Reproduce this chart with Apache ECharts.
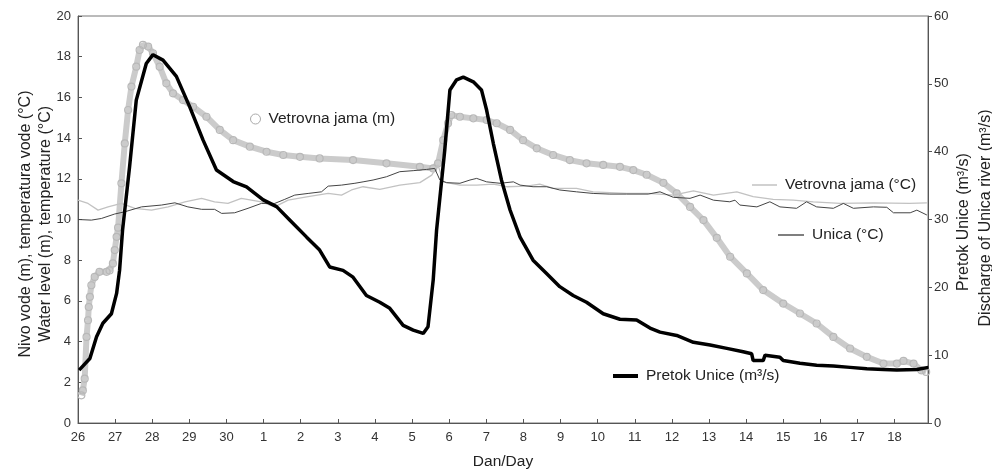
<!DOCTYPE html>
<html>
<head>
<meta charset="utf-8">
<script src="https://cdn.jsdelivr.net/npm/echarts@6/dist/echarts.min.js"></script>
<style>
html,body{margin:0;padding:0;background:#fff;}
#chart{width:992px;height:470px;}
</style>
</head>
<body>
<div id="chart"></div>
<script>
// x = days since "26" (0 = 26th)
var dayLabels = ['26','27','28','29','30','1','2','3','4','5','6','7','8','9','10','11','12','13','14','15','16','17','18'];

// Vetrovna jama water level (m), left axis
var levelVJ = [
[0.09,1.36],[0.13,1.6],[0.18,2.18],[0.23,4.23],[0.27,5.05],[0.29,5.7],[0.32,6.2],[0.36,6.77],[0.45,7.18],[0.58,7.43],
[0.77,7.43],[0.85,7.5],[0.94,7.84],[0.99,8.5],[1.04,9.15],[1.08,9.6],[1.17,11.78],[1.26,13.74],[1.35,15.38],[1.44,16.53],
[1.57,17.51],[1.66,18.33],[1.75,18.58],[1.89,18.5],[2.02,18.17],[2.20,17.51],[2.38,16.69],[2.56,16.2],[2.83,15.87],[3.10,15.54],
[3.46,15.05],[3.82,14.4],[4.18,13.9],[4.63,13.58],[5.08,13.33],[5.53,13.17],[5.98,13.08],[6.51,13.0],[7.41,12.92],[8.31,12.76],
[9.21,12.59],[9.57,12.51],[9.70,12.76],[9.84,13.9],[9.97,14.73],[10.06,15.13],[10.29,15.05],[10.65,14.97],[11.01,14.89],[11.28,14.73],
[11.64,14.4],[11.99,13.9],[12.36,13.5],[12.80,13.17],[13.25,12.92],[13.70,12.76],[14.15,12.68],[14.60,12.59],[14.96,12.43],[15.32,12.2],
[15.77,11.8],[16.13,11.28],[16.49,10.62],[16.85,9.97],[17.21,9.1],[17.57,8.17],[18.02,7.35],[18.46,6.53],[19.00,5.87],[19.45,5.38],
[19.90,4.89],[20.35,4.23],[20.80,3.66],[21.25,3.25],[21.70,2.92],[22.06,2.92],[22.24,3.05],[22.51,2.92],[22.72,2.59],[22.85,2.51]
];

// Vetrovna jama water temperature (°C), left axis
var tempVJ = [
[0.00,10.95],[0.27,10.79],[0.54,10.46],[0.81,10.62],[1.17,10.79],[1.53,10.55],[1.98,10.46],[2.43,10.62],[2.88,10.87],[3.33,11.04],
[3.68,10.87],[4.04,10.79],[4.40,11.04],[4.94,10.87],[5.30,10.62],[5.66,10.95],[6.20,11.12],[6.74,11.28],[7.10,11.2],[7.37,11.45],
[7.68,11.61],[8.13,11.48],[8.67,11.69],[9.21,11.81],[9.53,12.18],[9.70,12.68],[9.84,11.85],[10.29,11.69],[10.74,11.69],[11.19,11.74],
[11.55,11.61],[12.09,11.64],[12.44,11.74],[12.80,11.53],[13.43,11.53],[13.88,11.36],[14.78,11.28],[15.36,11.28],[16.04,11.2],[16.58,11.41],
[17.12,11.2],[17.75,11.36],[18.19,11.12],[18.73,10.99],[19.27,10.95],[19.81,10.87],[20.53,10.79],[21.43,10.82],[22.40,10.79],[22.87,10.82]
];

// Unica river temperature (°C), left axis
var tempUnica = [
[0.00,10.0],[0.36,9.97],[0.63,10.05],[0.99,10.27],[1.26,10.38],[1.71,10.62],[2.25,10.71],[2.61,10.82],[2.96,10.62],[3.33,10.5],
[3.68,10.5],[3.87,10.3],[4.22,10.33],[4.58,10.55],[4.94,10.79],[5.30,10.79],[5.57,10.99],[5.84,11.2],[6.20,11.28],[6.56,11.36],
[6.74,11.64],[7.10,11.69],[7.46,11.78],[7.68,11.85],[7.95,11.94],[8.31,12.1],[8.67,12.35],[9.03,12.4],[9.39,12.46],[9.61,12.51],
[9.75,11.94],[9.93,11.81],[10.29,11.78],[10.56,11.94],[10.74,12.02],[11.01,11.85],[11.37,11.78],[11.73,11.85],[11.91,11.69],[12.26,11.61],
[12.63,11.61],[12.98,11.45],[13.43,11.36],[13.88,11.28],[14.33,11.25],[14.78,11.25],[15.36,11.25],[15.68,11.36],[16.04,11.09],[16.49,11.04],
[16.76,11.2],[17.12,10.95],[17.56,10.87],[17.70,10.95],[17.83,10.71],[18.29,10.62],[18.64,10.87],[18.91,10.62],[19.36,10.55],[19.63,10.87],
[19.90,10.62],[20.35,10.55],[20.62,10.79],[20.89,10.55],[21.43,10.62],[21.79,10.6],[21.97,10.33],[22.42,10.33],[22.60,10.46],[22.87,10.22]
];

// Discharge of Unica (m3/s), right axis
var discharge = [
[0.03,7.8],[0.32,9.5],[0.50,12.7],[0.67,14.7],[0.90,16.1],[1.04,19.1],[1.12,22.5],[1.20,28.4],[1.39,37.8],[1.57,47.6],
[1.84,53.0],[2.02,54.3],[2.29,53.5],[2.65,51.1],[3.01,46.6],[3.37,41.7],[3.73,37.3],[4.18,35.6],[4.54,34.8],[4.99,32.9],
[5.35,31.9],[5.71,29.9],[6.16,27.4],[6.51,25.5],[6.78,23.0],[7.14,22.5],[7.41,21.5],[7.77,18.8],[8.13,17.8],[8.40,16.9],
[8.76,14.4],[9.03,13.7],[9.30,13.2],[9.43,14.2],[9.57,21.1],[9.66,28.4],[9.88,40.2],[10.02,49.1],[10.20,50.6],[10.38,51.0],
[10.65,50.3],[10.87,49.1],[11.01,46.1],[11.19,41.2],[11.41,35.8],[11.64,31.4],[11.91,27.4],[12.26,24.0],[12.63,22.0],[12.98,20.1],
[13.34,18.8],[13.70,17.8],[14.15,16.1],[14.60,15.3],[15.05,15.2],[15.41,14.0],[15.68,13.4],[16.13,12.9],[16.58,11.9],[17.03,11.5],
[17.48,11.0],[17.92,10.5],[18.15,10.2],[18.19,9.2],[18.46,9.2],[18.51,10.0],[18.91,9.7],[19.00,9.2],[19.45,8.8],[19.90,8.5],
[20.35,8.4],[20.80,8.2],[21.25,8.0],[21.70,7.9],[22.06,7.8],[22.60,7.9],[22.91,8.2]
];

var FONT = '"Liberation Sans", Arial, sans-serif';
var chart = echarts.init(document.getElementById('chart'));

function leg(name, left, top, w, h, extra) {
  var item = {name: name};
  if (extra) { for (var k in extra) item[k] = extra[k]; }
  return {
    data: [item], left: left, top: top, padding: 0, itemGap: 0,
    itemWidth: w, itemHeight: h, selectedMode: false,
    textStyle: {fontFamily: FONT, fontSize: 15.5, color: '#222', padding: [0, 0, 0, 3]}
  };
}

chart.setOption({
  animation: false,
  backgroundColor: '#fff',
  grid: {left: 78, right: 64, top: 16, bottom: 47, outerBoundsMode: 'none', containLabel: false,
         show: true, borderColor: '#777', borderWidth: 1},
  legend: [
    leg('Vetrovna jama (m)', 250, 111, 10, 10, {icon: 'circle', itemStyle: {color: '#fff', borderColor: '#aaa', borderWidth: 1}}),
    leg('Vetrovna jama (°C)', 752, 177, 25, 1.5, {icon: 'rect', itemStyle: {color: '#c2c2c2', borderWidth: 0}}),
    leg('Unica (°C)', 778, 227, 26, 1.5, {icon: 'rect', itemStyle: {color: '#555', borderWidth: 0}}),
    leg('Pretok Unice (m³/s)', 613, 368, 25, 4, {icon: 'rect', itemStyle: {color: '#000', borderWidth: 0}})
  ],
  xAxis: {
    type: 'value', min: 0, max: 22.9, interval: 1,
    name: 'Dan/Day', nameLocation: 'middle', nameGap: 31,
    nameTextStyle: {fontFamily: FONT, fontSize: 15.5, color: '#222'},
    axisLine: {lineStyle: {color: '#555', width: 1}},
    axisTick: {inside: true, length: 4, lineStyle: {color: '#555'}},
    axisLabel: {
      fontFamily: FONT, fontSize: 13, color: '#333', margin: 8,
      showMaxLabel: false,
      formatter: function (v) { return (Math.abs(v - Math.round(v)) < 1e-6 && dayLabels[Math.round(v)] !== undefined) ? dayLabels[Math.round(v)] : ''; }
    },
    splitLine: {show: false}
  },
  yAxis: [
    {
      type: 'value', min: 0, max: 20, interval: 2, position: 'left',
      axisLine: {show: true, lineStyle: {color: '#555', width: 1}},
      axisTick: {show: true, inside: true, length: 4, lineStyle: {color: '#555'}},
      axisLabel: {fontFamily: FONT, fontSize: 13, color: '#333', margin: 7},
      splitLine: {show: false}
    },
    {
      type: 'value', min: 0, max: 60, interval: 10, position: 'right',
      axisLine: {show: true, lineStyle: {color: '#555', width: 1}},
      axisTick: {show: true, inside: false, length: 4, lineStyle: {color: '#555'}},
      axisLabel: {fontFamily: FONT, fontSize: 13, color: '#333', margin: 6},
      splitLine: {show: false}
    }
  ],
  graphic: [
    {type: 'text', x: 26, y: 224, rotation: Math.PI / 2,
     style: {text: 'Nivo vode (m), temperatura vode (°C)', fontFamily: FONT, fontSize: 16, fill: '#222', textAlign: 'center', textVerticalAlign: 'middle'}},
    {type: 'text', x: 46, y: 224, rotation: Math.PI / 2,
     style: {text: 'Water level (m), temperature (°C)', fontFamily: FONT, fontSize: 16, fill: '#222', textAlign: 'center', textVerticalAlign: 'middle'}},
    {type: 'text', x: 964, y: 222, rotation: Math.PI / 2,
     style: {text: 'Pretok Unice (m³/s)', fontFamily: FONT, fontSize: 16, fill: '#222', textAlign: 'center', textVerticalAlign: 'middle'}},
    {type: 'text', x: 986, y: 218, rotation: Math.PI / 2,
     style: {text: 'Discharge of Unica river (m³/s)', fontFamily: FONT, fontSize: 16, fill: '#222', textAlign: 'center', textVerticalAlign: 'middle'}}
  ],
  series: [
    {
      name: 'Vetrovna jama (m)', type: 'line', yAxisIndex: 0, data: levelVJ, z: 1,
      symbol: 'circle', symbolSize: 7, showSymbol: true, showAllSymbol: true,
      lineStyle: {color: '#cbcbcb', width: 6},
      itemStyle: {color: 'rgba(255,255,255,0)', borderColor: '#b8b8b8', borderWidth: 1.2}
    },
    {
      name: 'Vetrovna jama (°C)', type: 'line', yAxisIndex: 0, data: tempVJ, z: 2,
      symbol: 'none', lineStyle: {color: '#c2c2c2', width: 1.3}, itemStyle: {color: '#c2c2c2'}
    },
    {
      name: 'Unica (°C)', type: 'line', yAxisIndex: 0, data: tempUnica, z: 3,
      symbol: 'none', lineStyle: {color: '#444', width: 1}, itemStyle: {color: '#444'}
    },
    {
      name: 'Pretok Unice (m³/s)', type: 'line', yAxisIndex: 1, data: discharge, z: 4,
      symbol: 'none', lineStyle: {color: '#000', width: 3.5}, itemStyle: {color: '#000'}
    }
  ]
});
</script>
</body>
</html>
